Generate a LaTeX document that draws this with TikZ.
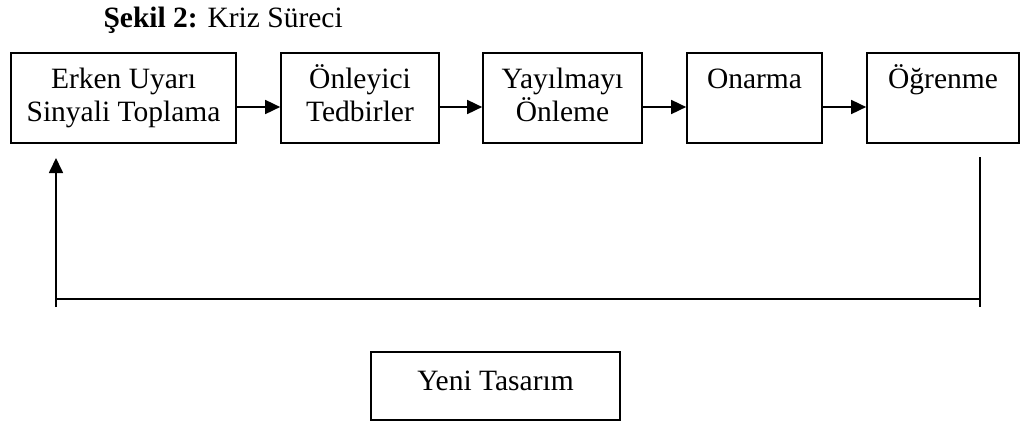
\documentclass[tikz,border=0pt]{standalone}
\usepackage{fontspec}
\setmainfont{Liberation Serif}
\usetikzlibrary{arrows.meta}
\begin{document}
\begin{tikzpicture}[x=1pt,y=-1pt,
  txt/.style={font=\fontsize{29.5}{33}\selectfont},
  stepbox/.style={draw,line width=1.7pt,inner sep=0pt,minimum height=90pt,align=center,
    txt,text height=54pt,text depth=8pt},
  arr/.style={line width=1.7pt,-{Triangle[length=15pt,width=14pt]}},
  fb/.style={line width=1.7pt}]
\useasboundingbox (0,0) rectangle (1020,421);
\node[txt,anchor=base west] (title) at (100,27) {\textbf{Şekil 2:} Kriz Süreci};
\node[stepbox,minimum width=225pt] (b1) at (123.5,98) {Erken Uyarı\\Sinyali Toplama};
\node[stepbox,minimum width=158pt] (b2) at (360,98) {Önleyici\\Tedbirler};
\node[stepbox,minimum width=159pt] (b3) at (562.5,98) {Yayılmayı\\Önleme};
\node[stepbox,minimum width=135pt] (b4) at (754.5,98) {Onarma\\\mbox{}};
\node[stepbox,minimum width=152pt] (b5) at (943,98) {Öğrenme\\\mbox{}};
\node[draw,line width=1.7pt,inner sep=0pt,minimum width=249pt,minimum height=68pt,txt,
  text height=20pt,text depth=12pt] (yeni) at (495.5,386) {Yeni Tasarım};
\draw[arr] ([yshift=-9pt]b1.east) -- ([yshift=-9pt]b2.west);
\draw[arr] ([yshift=-9pt]b2.east) -- ([yshift=-9pt]b3.west);
\draw[arr] ([yshift=-9pt]b3.east) -- ([yshift=-9pt]b4.west);
\draw[arr] ([yshift=-9pt]b4.east) -- ([yshift=-9pt]b5.west);
\coordinate (rtop) at (980,157);
\coordinate (rbot) at (980,307);
\coordinate (hr) at (980,299);
\coordinate (hl) at (56,299);
\coordinate (lbot) at (56,307);
\coordinate (ltip) at (56,158);
\draw[fb] (rtop) -- (rbot);
\draw[fb] (hl) -- (hr);
\draw[fb,-{Triangle[length=15pt,width=14pt]}] (lbot) -- (ltip);
\end{tikzpicture}
\end{document}
